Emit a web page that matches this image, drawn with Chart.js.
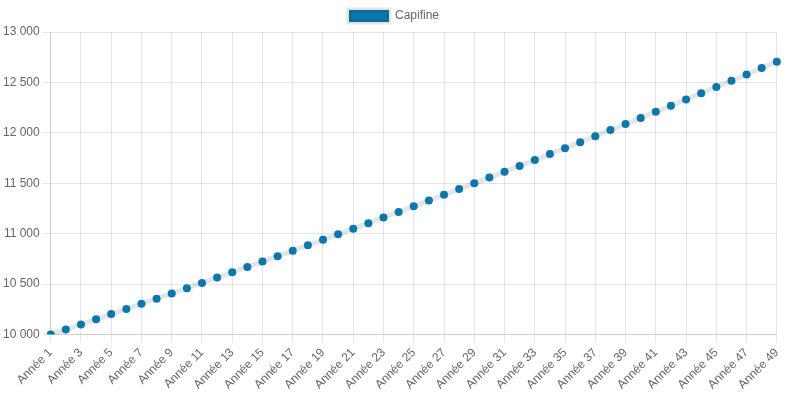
<!DOCTYPE html>
<html>
<head>
<meta charset="utf-8">
<script src="https://cdn.jsdelivr.net/npm/chart.js@4/dist/chart.umd.min.js"></script>
<style>
  html, body { margin: 0; padding: 0; background: #fff; }
  #wrap { width: 790px; height: 395px; }
</style>
</head>
<body>
<div id="wrap"><canvas id="chart"></canvas></div>
<script>
const years = [
  "Année 1", "Année 2", "Année 3", "Année 4", "Année 5", "Année 6", "Année 7",
  "Année 8", "Année 9", "Année 10", "Année 11", "Année 12", "Année 13", "Année 14",
  "Année 15", "Année 16", "Année 17", "Année 18", "Année 19", "Année 20", "Année 21",
  "Année 22", "Année 23", "Année 24", "Année 25", "Année 26", "Année 27", "Année 28",
  "Année 29", "Année 30", "Année 31", "Année 32", "Année 33", "Année 34", "Année 35",
  "Année 36", "Année 37", "Année 38", "Année 39", "Année 40", "Année 41", "Année 42",
  "Année 43", "Année 44", "Année 45", "Année 46", "Année 47", "Année 48", "Année 49",
];

const capifine = [
  10000, 10050, 10100, 10151, 10202, 10253, 10304, 10355, 10407, 10459,
  10511, 10564, 10617, 10670, 10723, 10777, 10831, 10885, 10939, 10994,
  11049, 11104, 11160, 11216, 11272, 11328, 11385, 11442, 11499, 11556,
  11614, 11672, 11730, 11789, 11848, 11907, 11967, 12027, 12087, 12147,
  12208, 12269, 12330, 12392, 12454, 12516, 12579, 12642, 12705,
];

const yMin = 10000;
const yMax = 13000;
const yStep = 500;

Chart.defaults.font.family = "'Liberation Sans', Arial, Helvetica, sans-serif";
Chart.defaults.font.size = 12;
Chart.defaults.color = "#666";

// French thousands separator, with a plain no-break space
const fmt = (v) => v.toLocaleString("fr-FR").replace(/\u202f/g, "\u00a0");

new Chart(document.getElementById("chart"), {
  type: "line",
  data: {
    labels: years,
    datasets: [{
      label: "Capifine",
      data: capifine,
      borderColor: "rgba(0, 0, 0, 0.1)",
      backgroundColor: "#0a78b0",
      borderWidth: 5,
      pointRadius: 4,
      pointHoverRadius: 5,
      pointBorderWidth: 0,
      pointBackgroundColor: "#0a78b0",
      fill: false,
      tension: 0,
    }],
  },
  options: {
    responsive: true,
    maintainAspectRatio: false,
    animation: false,
    locale: "fr-FR",
    layout: { padding: { right: 2 } },
    plugins: {
      legend: { position: "top", labels: { boxWidth: 40, boxHeight: 12 } },
      tooltip: { enabled: false },
    },
    scales: {
      x: {
        ticks: { minRotation: 45, maxRotation: 45 },
      },
      y: {
        min: yMin,
        max: yMax,
        ticks: { stepSize: yStep, callback: (v) => fmt(v) },
      },
    },
  },
});
</script>
</body>
</html>
